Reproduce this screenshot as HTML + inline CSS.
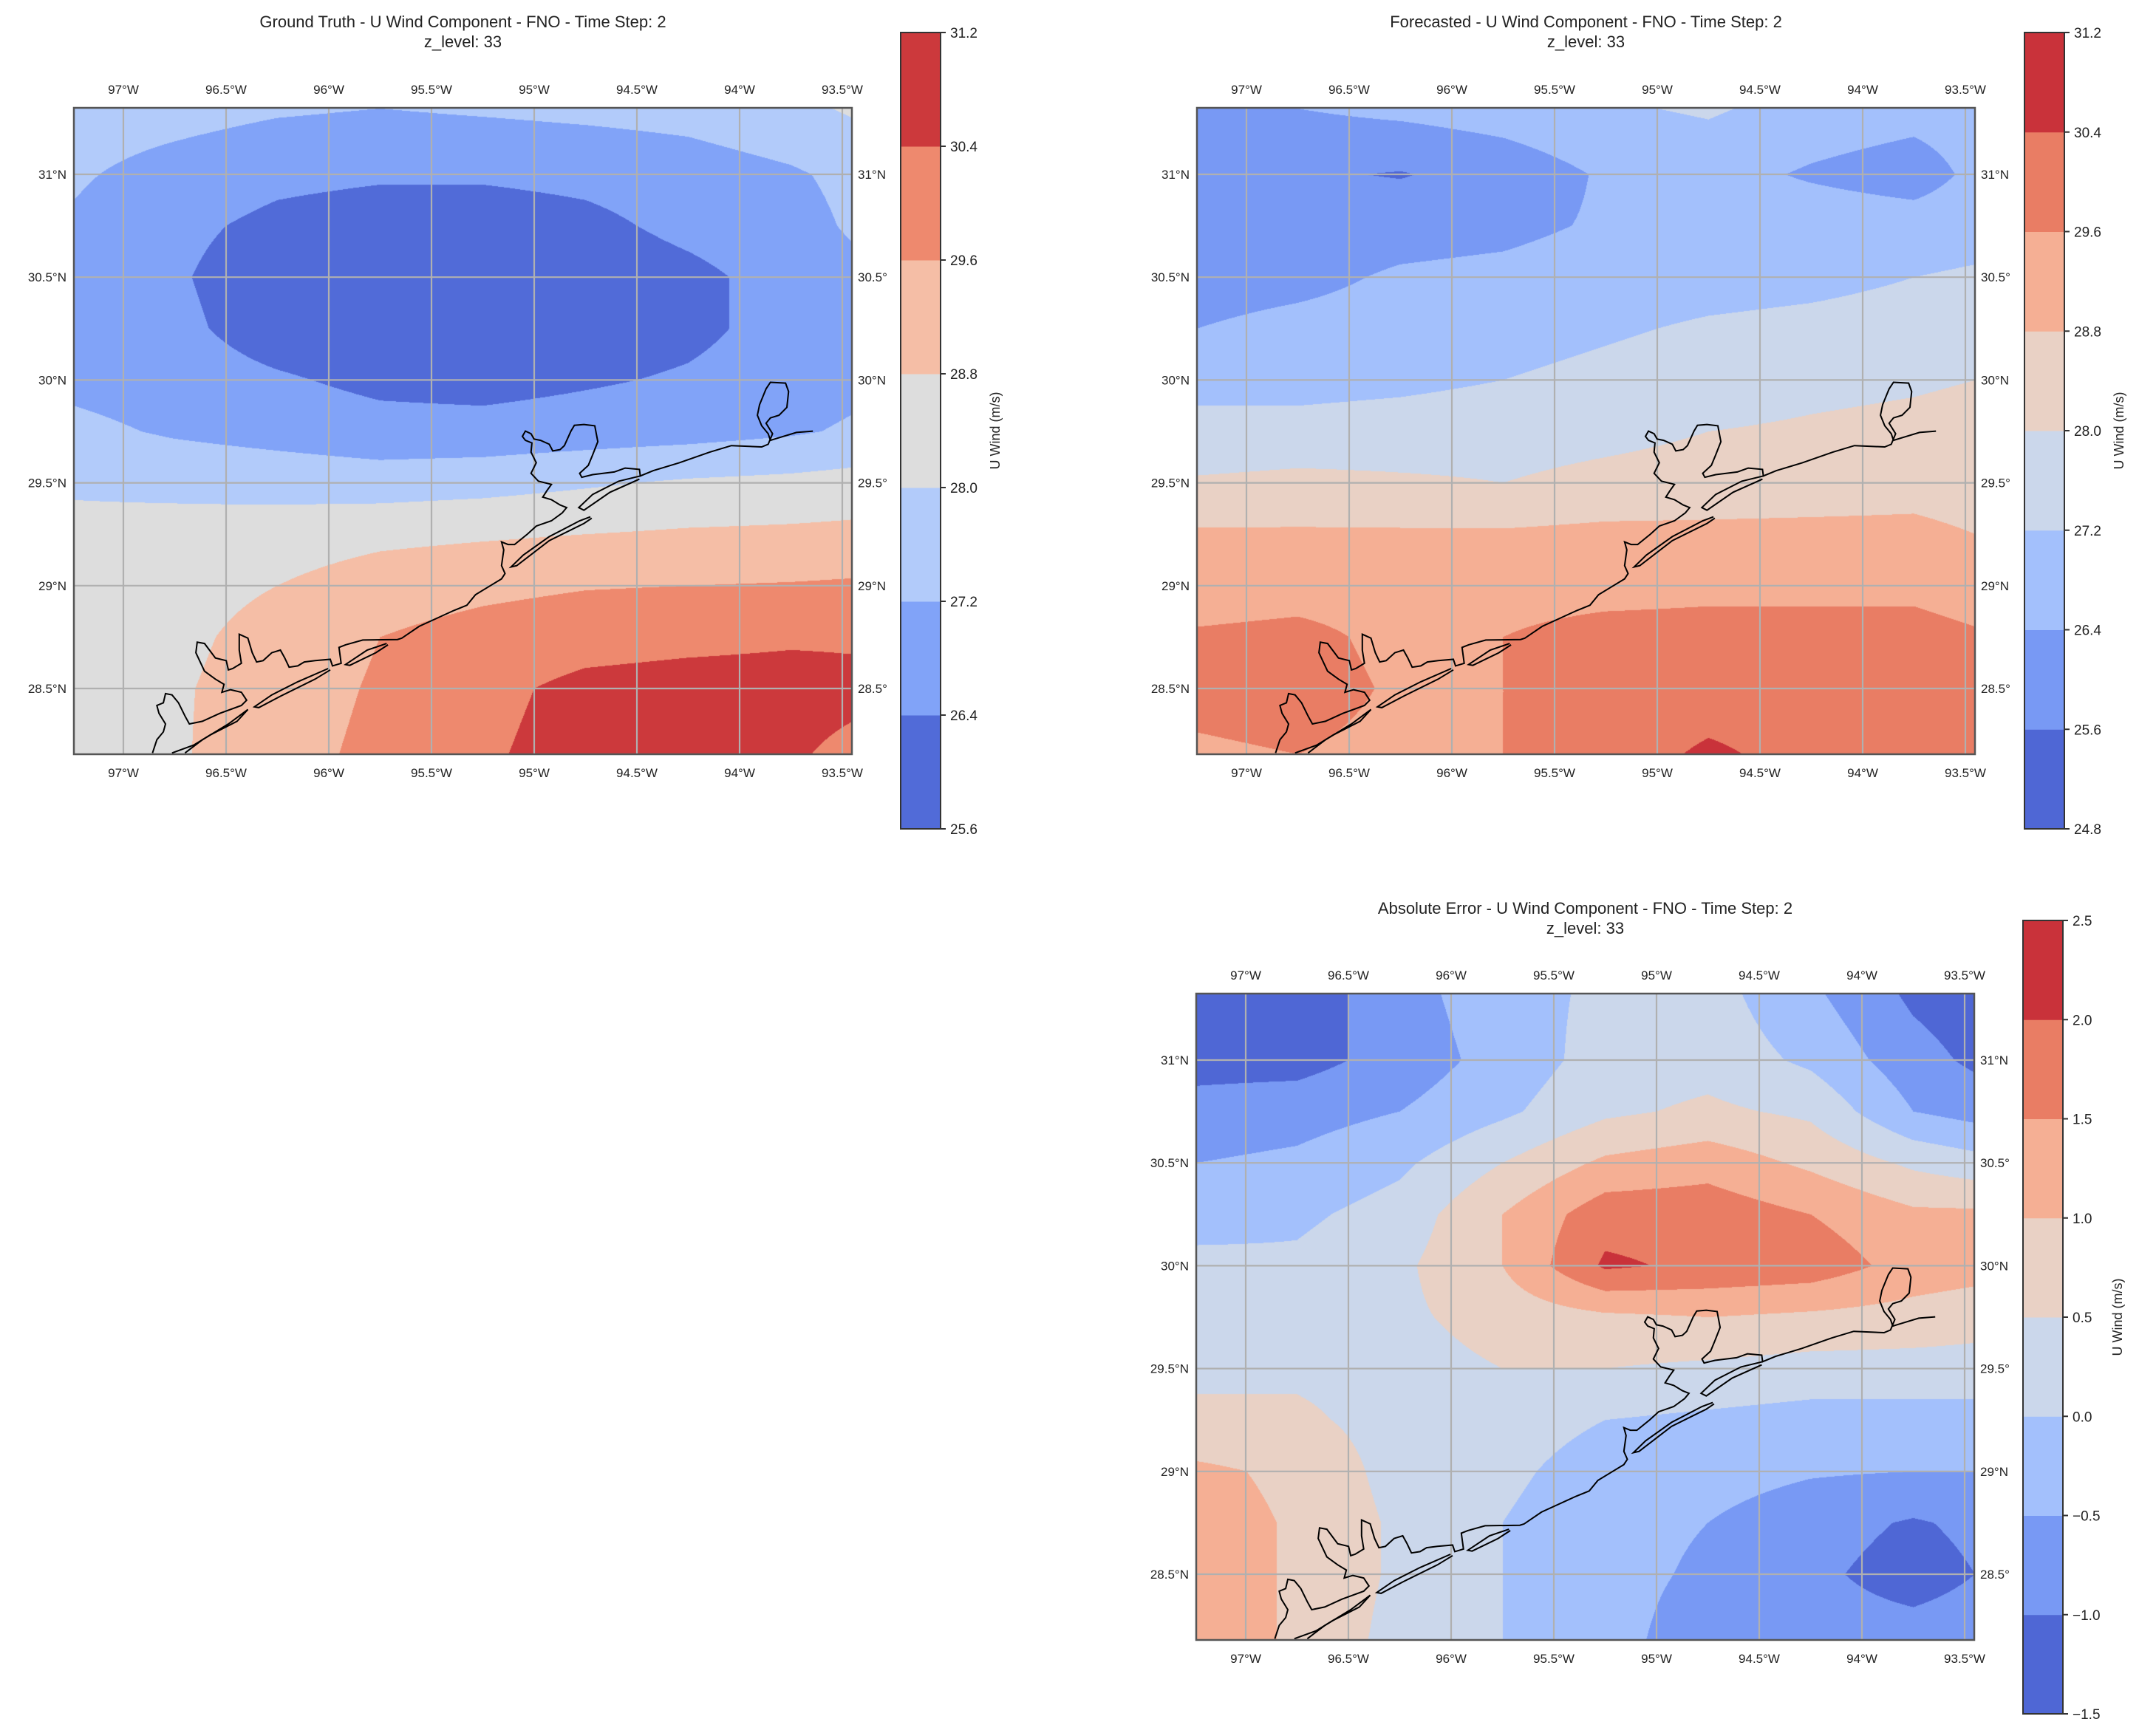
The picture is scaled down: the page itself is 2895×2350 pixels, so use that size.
<!DOCTYPE html>
<html><head><meta charset="utf-8">
<style>
html,body{margin:0;padding:0;background:#fff;}
body{width:2895px;height:2350px;position:relative;overflow:hidden;font-family:"Liberation Sans","DejaVu Sans",sans-serif;color:#222;}
canvas{position:absolute;}
svg{position:absolute;left:0;top:0;}
</style></head>
<body>
<svg id="svg" width="2895" height="2350"></svg>
<script>
// ---- data ----
const nodeLons=[-97.24,-96.75,-96.25,-95.75,-95.25,-94.75,-94.25,-93.75,-93.45];
const nodeLats=[31.32,31.0,30.75,30.5,30.25,30.0,29.75,29.5,29.25,29.0,28.75,28.5,28.18];
const truthField=[
[27.6,27.5,27.3,27.2,27.3,27.4,27.5,27.8,28.1],
[27.3,26.9,26.6,26.5,26.5,26.6,26.8,27.1,27.4],
[27.1,26.6,26.2,26.0,26.0,26.2,26.6,26.9,27.3],
[26.9,26.5,25.9,25.8,25.8,25.9,26.2,26.7,27.0],
[26.9,26.6,26.0,25.8,25.8,25.9,26.2,26.7,26.9],
[27.0,26.8,26.5,26.2,26.1,26.3,26.5,26.8,27.0],
[27.4,27.1,26.9,26.7,26.7,26.8,26.9,27.1,27.3],
[27.9,27.8,27.7,27.6,27.7,27.9,28.1,28.2,28.3],
[28.2,28.3,28.4,28.6,28.7,28.8,28.9,28.95,29.0],
[28.3,28.5,28.8,29.2,29.4,29.55,29.6,29.65,29.7],
[28.3,28.6,29.1,29.6,29.9,30.1,30.2,30.3,30.3],
[28.3,28.7,29.2,29.7,30.2,30.6,30.7,30.7,30.6],
[28.4,28.7,29.3,29.8,30.3,30.7,30.6,30.5,30.2]];
const forecastField=[
[26.3,26.4,26.6,26.8,27.1,27.3,26.9,26.7,26.8],
[25.8,25.7,25.55,25.9,26.5,26.7,26.3,26.0,26.6],
[25.9,26.0,26.1,26.2,26.5,26.8,26.9,26.8,26.9],
[26.1,26.2,26.5,26.6,26.8,26.9,27.0,27.2,27.3],
[26.4,26.6,26.7,26.9,27.1,27.3,27.4,27.5,27.6],
[27.0,26.9,27.0,27.2,27.4,27.6,27.8,27.9,28.0],
[27.4,27.5,27.6,27.7,27.8,28.0,28.1,28.2,28.3],
[28.1,28.2,28.1,28.0,28.2,28.3,28.4,28.5,28.4],
[28.9,28.9,28.9,28.9,29.0,29.0,29.0,29.0,28.8],
[29.2,29.3,29.3,29.3,29.3,29.4,29.4,29.4,29.2],
[29.7,29.8,29.4,29.6,29.9,29.9,29.9,29.9,29.7],
[29.8,29.9,29.5,29.6,30.0,30.1,30.1,30.0,29.8],
[29.5,29.6,29.4,29.6,30.1,30.5,30.2,30.0,29.8]];
const errorField=[
[-1.2,-1.3,-0.7,-0.2,0.1,0.2,-0.4,-1.1,-1.3],
[-1.2,-1.2,-0.8,-0.3,0.2,0.3,-0.1,-0.8,-1.1],
[-0.8,-0.7,-0.5,-0.1,0.4,0.6,0.4,-0.5,-0.7],
[-0.5,-0.4,-0.1,0.5,1.1,1.3,0.9,0.4,0.2],
[-0.3,-0.1,0.2,1.0,1.8,1.8,1.5,1.1,1.1],
[0.2,0.1,0.4,1.0,2.08,1.9,1.8,1.3,1.2],
[0.3,0.2,0.4,0.7,0.9,1.0,0.9,0.8,0.7],
[0.4,0.4,0.3,0.5,0.5,0.4,0.3,0.3,0.3],
[0.6,0.6,0.3,0.2,0.0,-0.1,-0.2,-0.2,-0.2],
[1.1,0.9,0.3,0.1,-0.2,-0.3,-0.45,-0.5,-0.5],
[1.2,0.95,0.4,0.0,-0.3,-0.5,-0.8,-1.05,-0.9],
[1.2,0.95,0.4,0.0,-0.3,-0.6,-0.9,-1.2,-1.0],
[1.2,0.95,0.3,0.0,-0.3,-0.8,-0.8,-0.8,-0.75]];
const truthLevels=[25.6,26.4,27.2,28.0,28.8,29.6,30.4,31.2];
const forecastLevels=[24.8,25.6,26.4,27.2,28.0,28.8,29.6,30.4,31.2];
const errorLevels=[-1.5,-1.0,-0.5,0.0,0.5,1.0,1.5,2.0,2.5];
const truthTickLabels=["25.6","26.4","27.2","28.0","28.8","29.6","30.4","31.2"];
const forecastTickLabels=["24.8","25.6","26.4","27.2","28.0","28.8","29.6","30.4","31.2"];
const errorTickLabels=["\u22121.5","\u22121.0","\u22120.5","0.0","0.5","1.0","1.5","2.0","2.5"];
const lonTicks=[-97,-96.5,-96,-95.5,-95,-94.5,-94,-93.5];
const lonTickLabels=["97°W","96.5°W","96°W","95.5°W","95°W","94.5°W","94°W","93.5°W"];
const latTicks=[31,30.5,30,29.5,29,28.5];
const latLeftLabels=["31°N","30.5°N","30°N","29.5°N","29°N","28.5°N"];
const latRightLabels=["31°N","30.5°","30°N","29.5°","29°N","28.5°"];

const coastZ=[[1568,290],[1530,295],[1480,320],[1470,325],[1465,300],[1450,270],[1440,230],[1445,190],[1460,130],[1470,105],[1505,108],[1512,140],[1508,200],[1490,230],[1470,240],[1460,260],[1475,300],[1465,340],[1450,350],[1380,345],[1330,370],[1260,410],[1200,440],[1170,460],[1168,435],[1135,430],[1110,445],[1060,455],[1035,465],[1030,450],[1050,420],[1060,380],[1072,330],[1065,270],[1040,265],[1018,268],[1010,290],[995,345],[985,360],[968,365],[960,340],[940,325],[925,320],[918,300],[905,290],[898,310],[905,325],[920,335],[918,370],[930,410],[918,450],[935,480],[965,492],[955,515],[945,540],[965,550],[985,570],[1000,580],[990,600],[965,630],[930,650],[910,680],[880,720],[865,720],[850,710],[855,740],[850,800],[858,830],[850,850],[820,880],[790,910],[770,950],[740,970],[700,1000],[660,1030],[620,1075],[610,1080],[530,1082],[490,1100],[475,1110],[480,1170],[460,1180],[455,1155],[420,1160],[395,1165],[380,1180],[360,1185],[350,1150],[340,1120],[320,1130],[300,1160],[285,1165],[275,1130],[265,1075],[245,1060],[245,1120],[250,1170],[230,1190],[220,1195],[215,1160],[190,1150],[165,1095],[148,1090],[145,1130],[165,1200],[190,1230],[210,1250],[205,1280],[225,1270],[250,1280],[262,1310],[250,1330],[200,1360],[160,1390],[130,1400],[120,1370],[105,1320],[90,1290],[75,1285],[70,1320],[55,1330],[60,1360],[75,1400],[70,1430],[55,1460],[45,1510]];
const islandsZ=[
[[1170,460],[1120,480],[1060,530],[1028,580],[1040,590],[1100,522],[1168,472]],
[[1055,615],[1030,630],[960,690],[900,760],[872,805],[885,800],[960,705],[1040,640],[1058,620]],
[[585,1095],[540,1120],[490,1175],[500,1178],[560,1130],[588,1100]],
[[450,1190],[380,1240],[320,1290],[280,1335],[290,1338],[340,1295],[420,1230],[455,1195]],
[[265,1345],[220,1400],[160,1460],[120,1510]],
[[265,1345],[240,1390],[180,1440],[140,1480],[90,1510]]];
function zToLL(p){const px=180+p[0]/1.704, py=480+p[1]/2.8;return [-97+(px-167)/139*0.5, 31-(py-236)/139.2*0.5];}

const cwStops=[[0,59,76,192],[0.125,98,130,234],[0.25,141,176,254],[0.375,184,208,249],[0.5,221,221,221],[0.625,245,196,173],[0.75,244,154,123],[0.875,222,96,77],[1,180,4,38]];
function cw(t){for(let i=1;i<cwStops.length;i++){if(t<=cwStops[i][0]){const a=cwStops[i-1],b=cwStops[i];const f=(t-a[0])/(b[0]-a[0]);return [0,1,2].map(k=>Math.round(a[k+1]+(b[k+1]-a[k+1])*f));}}return cwStops[8].slice(1);}
function binColors(n){const c=[];for(let i=0;i<n;i++)c.push(cw((i+0.5)/n));return c;}

const NS="http://www.w3.org/2000/svg";
const svg=document.getElementById('svg');
function el(tag,attrs,parent){const e=document.createElementNS(NS,tag);for(const k in attrs)e.setAttribute(k,attrs[k]);(parent||svg).appendChild(e);return e;}
function txt(x,y,s,size,anchor,parent,extra){const t=el('text',Object.assign({x:x,y:y,'font-size':size,'text-anchor':anchor||'middle','font-family':'Liberation Sans, DejaVu Sans, sans-serif',fill:'#222'},extra||{}),parent);t.textContent=s;return t;}

function panel(cfg){
  const L=cfg.left,T=cfg.top,W=1053,H=875;
  const g97=L+67,g31=T+90,dx=139,dy=139.2;
  const xOf=lon=>g97+(lon+97)/0.5*dx;
  const yOf=lat=>g31+(31-lat)/0.5*dy;
  const lonOf=px=>-97+(px-g97)/dx*0.5;
  const latOf=py=>31-(py-g31)/dy*0.5;
  const colors=binColors(cfg.levels.length-1);
  const g=el('g',{},svg);
  
  
  const cv=document.createElement('canvas');cv.width=W;cv.height=H;cv.style.left=L+'px';cv.style.top=T+'px';
  
  
  document.body.insertBefore(cv,svg);
  const ctx=cv.getContext('2d');const img=ctx.createImageData(W,H);
  const F=cfg.field,lv=cfg.levels;
  for(let j=0;j<H;j++){const lat=latOf(T+j+0.5);
    let r=0;while(r<nodeLats.length-2&&lat<nodeLats[r+1])r++;
    let fy=(nodeLats[r]-lat)/(nodeLats[r]-nodeLats[r+1]);fy=Math.max(0,Math.min(1,fy));
    for(let i=0;i<W;i++){const lon=lonOf(L+i+0.5);
      let c=0;while(c<nodeLons.length-2&&lon>nodeLons[c+1])c++;
      let fx=(lon-nodeLons[c])/(nodeLons[c+1]-nodeLons[c]);fx=Math.max(0,Math.min(1,fx));
      const v=(F[r][c]*(1-fx)+F[r][c+1]*fx)*(1-fy)+(F[r+1][c]*(1-fx)+F[r+1][c+1]*fx)*fy;
      let b=0;while(b<lv.length-2&&v>=lv[b+1])b++;
      const col=colors[b];const k=(j*W+i)*4;img.data[k]=col[0];img.data[k+1]=col[1];img.data[k+2]=col[2];img.data[k+3]=255;}}
  ctx.putImageData(img,0,0);
  lonTicks.forEach((lon,i)=>{const l=el('line',{x1:xOf(lon),x2:xOf(lon),y1:T,y2:T+H,stroke:'#b0b0b0','stroke-width':2.2},g);
    
    const a=txt(xOf(lon),T-19,lonTickLabels[i],17,'middle',g);
    const b=txt(xOf(lon),T+H+31,lonTickLabels[i],17,'middle',g);});
  latTicks.forEach((lat,i)=>{const l=el('line',{x1:L,x2:L+W,y1:yOf(lat),y2:yOf(lat),stroke:'#b0b0b0','stroke-width':2.2},g);
    
    const a=txt(L-10,yOf(lat)+6,latLeftLabels[i],17,'end',g);
    const b=txt(L+W+8,yOf(lat)+6,latRightLabels[i],17,'start',g);});
  const clip='clip-'+cfg.name;const cp=el('clipPath',{id:clip},g);el('rect',{x:L,y:T,width:W,height:H},cp);
  const toPts=arr=>arr.map(p=>{const ll=zToLL(p);return xOf(ll[0]).toFixed(1)+','+yOf(ll[1]).toFixed(1);}).join(' ');
  const cl=el('polyline',{points:toPts(coastZ),fill:'none',stroke:'#000','stroke-width':2,'clip-path':'url(#'+clip+')'},g);
  
  islandsZ.forEach(isl=>{const p=el('polyline',{points:toPts(isl),fill:'none',stroke:'#000','stroke-width':2,'clip-path':'url(#'+clip+')'},g);
    });
  const fr=el('rect',{x:L,y:T,width:W,height:H,fill:'none',stroke:'#555','stroke-width':2.5},g);
  
  const cx=L+W/2;
  const t1=txt(cx,cfg.titleY,cfg.title,22,'middle',g);
  const t2=txt(cx,cfg.titleY+27,'z_level: 33',22,'middle',g);
  const cbx=cfg.cbx,cbw=54,cbt=cfg.cbt,cbb=cfg.cbb;const n=lv.length-1;const bh=(cbb-cbt)/n;
  const cb=el('g',{},g);
  for(let i=0;i<n;i++){const c=colors[i];const r=el('rect',{x:cbx,y:cbb-(i+1)*bh,width:cbw,height:bh+0.5,fill:'rgb('+c.join(',')+')'},cb);
    }
  el('rect',{x:cbx,y:cbt,width:cbw,height:cbb-cbt,fill:'none',stroke:'#333','stroke-width':2},cb);
  cfg.tickLabels.forEach((s,i)=>{const y=cbb-i*bh;el('line',{x1:cbx+cbw,x2:cbx+cbw+7,y1:y,y2:y,stroke:'#333','stroke-width':2},cb);
    const t=txt(cbx+cbw+13,y+7,s,19,'start',cb);});
  const ly=(cbt+cbb)/2;const lab=txt(cbx+cbw+80,ly,'U Wind (m/s)',18,'middle',cb,{transform:'rotate(-90 '+(cbx+cbw+80)+' '+ly+')'});
  
}
panel({name:'ground-truth',left:100,top:146,field:truthField,levels:truthLevels,tickLabels:truthTickLabels,title:'Ground Truth - U Wind Component - FNO - Time Step: 2',titleY:37,cbx:1219,cbt:44,cbb:1122});
panel({name:'forecast',left:1620,top:146,field:forecastField,levels:forecastLevels,tickLabels:forecastTickLabels,title:'Forecasted - U Wind Component - FNO - Time Step: 2',titleY:37,cbx:2740,cbt:44,cbb:1122});
panel({name:'abs-error',left:1619,top:1345,field:errorField,levels:errorLevels,tickLabels:errorTickLabels,title:'Absolute Error - U Wind Component - FNO - Time Step: 2',titleY:1237,cbx:2738,cbt:1246,cbb:2320});
</script>
</body></html>
